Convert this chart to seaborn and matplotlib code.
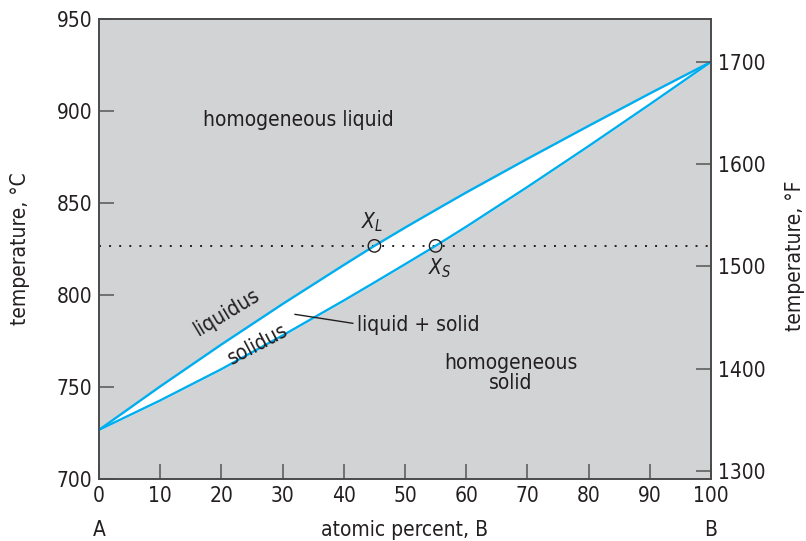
import matplotlib
matplotlib.use("Agg")
import matplotlib.pyplot as plt
from matplotlib import font_manager
import seaborn as sns
import pandas as pd

# Composition (atomic percent B) and phase-boundary temperatures (°C)
composition = [0, 10, 20, 30, 40, 45, 50, 55, 60, 70, 80, 90, 100]
liquidus_c = [726.7, 750.3, 773.1, 795.1, 816.3, 826.7, 836.6, 846.2, 855.7, 874.0, 891.9, 909.5, 926.7]
solidus_c = [726.7, 742.7, 759.7, 778.0, 797.0, 806.8, 816.7, 826.7, 837.1, 858.7, 880.9, 903.6, 926.7]

# Tie line at 1520 °F and its end compositions
tie_temp_c = 826.7
tie_points_x = [45, 55]
tie_labels = ["$X_L$", "$X_S$"]

x_ticks = [0, 10, 20, 30, 40, 50, 60, 70, 80, 90, 100]
c_ticks = [700, 750, 800, 850, 900, 950]
f_ticks = [1300, 1400, 1500, 1600, 1700]

sns.set_theme(style="ticks")

# prefer a condensed face when one is installed
names = {f.name for f in font_manager.fontManager.ttflist}
condensed = [f for f in font_manager.fontManager.ttflist
             if f.name == "DejaVu Sans" and f.stretch in ("condensed", 400 - 100, "semi-condensed")]
if "Liberation Sans Narrow" in names:
    family, FS = "Liberation Sans Narrow", 17
    plt.rcParams["font.family"] = [family, "DejaVu Sans"]
elif condensed:
    family, FS = "DejaVu Sans", 15
    plt.rcParams["font.family"] = [family]
    plt.rcParams["font.stretch"] = "condensed"
else:
    family, FS = "Liberation Sans", 14.5
    plt.rcParams["font.family"] = [family, "DejaVu Sans"]
plt.rcParams["mathtext.fontset"] = "custom"
plt.rcParams["mathtext.it"] = family + ":italic"
plt.rcParams["mathtext.rm"] = family

TEXT = "#231f20"
AXIS = "#4a4a4a"
CYAN = "#00aeef"
BG = "#d1d3d4"

fig = plt.figure(figsize=(8.06, 5.41), dpi=100)
ax = fig.add_axes([99 / 806, 62 / 541, 612 / 806, 460 / 541])
ax.set_facecolor(BG)

df = pd.DataFrame({"comp": composition, "liquidus": liquidus_c, "solidus": solidus_c})

# two-phase region
ax.fill_between(df["comp"], df["solidus"], df["liquidus"], color="white", zorder=1)
sns.lineplot(data=df, x="comp", y="liquidus", color=CYAN, lw=1.7, ax=ax, zorder=3)
sns.lineplot(data=df, x="comp", y="solidus", color=CYAN, lw=1.7, ax=ax, zorder=3)

# tie line
ax.plot([0, 100], [tie_temp_c, tie_temp_c], color=TEXT, lw=1.4,
        linestyle=(0, (1, 4.2)), zorder=2)
tie_df = pd.DataFrame({"x": tie_points_x, "y": [tie_temp_c] * 2})
sns.scatterplot(data=tie_df, x="x", y="y", s=80, facecolor="none",
                edgecolor=TEXT, linewidth=1.0, ax=ax, zorder=4)

ax.set_xlim(0, 100)
ax.set_ylim(700, 950)
ax.set_xticks(x_ticks)
ax.set_yticks(c_ticks)
ax.tick_params(axis="both", direction="in", length=11, width=1.1, color="#555555",
               labelsize=FS, labelcolor=TEXT)
ax.tick_params(axis="x", pad=5)
ax.tick_params(axis="y", pad=5)
ax.set_xlabel("")
ax.set_ylabel("")
for sp in ax.spines.values():
    sp.set_color(AXIS)
    sp.set_linewidth(1.2)

# Fahrenheit scale on the right
ax2 = ax.twinx()
ax2.set_ylim(700 * 9 / 5 + 32, 950 * 9 / 5 + 32)
ax2.set_yticks(f_ticks)
ax2.tick_params(axis="y", direction="in", length=11, width=1.1, color="#555555",
                labelsize=FS, labelcolor=TEXT, pad=5)
for sp in ax2.spines.values():
    sp.set_color(AXIS)
    sp.set_linewidth(1.2)

# axis titles
ax.text(-0.129, 0.5, "temperature, °C", rotation=90, ha="center", va="center",
        transform=ax.transAxes, fontsize=FS, color=TEXT)
ax.text(1.137, 0.485, "temperature, °F", rotation=90, ha="center", va="center",
        transform=ax.transAxes, fontsize=FS, color=TEXT)
xt = ax.get_xaxis_transform()
ax.text(50, -0.111, "atomic percent, B", ha="center", va="center", transform=xt,
        fontsize=FS, color=TEXT)
ax.text(0, -0.111, "A", ha="center", va="center", transform=xt, fontsize=FS, color=TEXT)
ax.text(100, -0.111, "B", ha="center", va="center", transform=xt, fontsize=FS, color=TEXT)

# region annotations
ax.text(32.5, 895.1, "homogeneous liquid", ha="center", va="center", fontsize=FS, color=TEXT)
ax.text(67.3, 757.6, "homogeneous\nsolid", ha="center", va="center", fontsize=FS,
        color=TEXT, linespacing=1.0)
ax.text(20.8, 790.5, "liquidus", ha="center", va="center", rotation=31,
        fontsize=FS, color=TEXT)
ax.text(25.9, 773.0, "solidus", ha="center", va="center", rotation=28,
        fontsize=FS, color=TEXT)
ax.text(42.2, 783.7, "liquid + solid", ha="left", va="center", fontsize=FS, color=TEXT)
ax.plot([32.0, 41.5], [789.5, 784.6], color=TEXT, lw=1.0, zorder=5)
ax.text(44.6, 839.7, tie_labels[0], ha="center", va="center", fontsize=FS, color=TEXT)
ax.text(55.7, 814.5, tie_labels[1], ha="center", va="center", fontsize=FS, color=TEXT)

fig.savefig("out.png", dpi=100)
